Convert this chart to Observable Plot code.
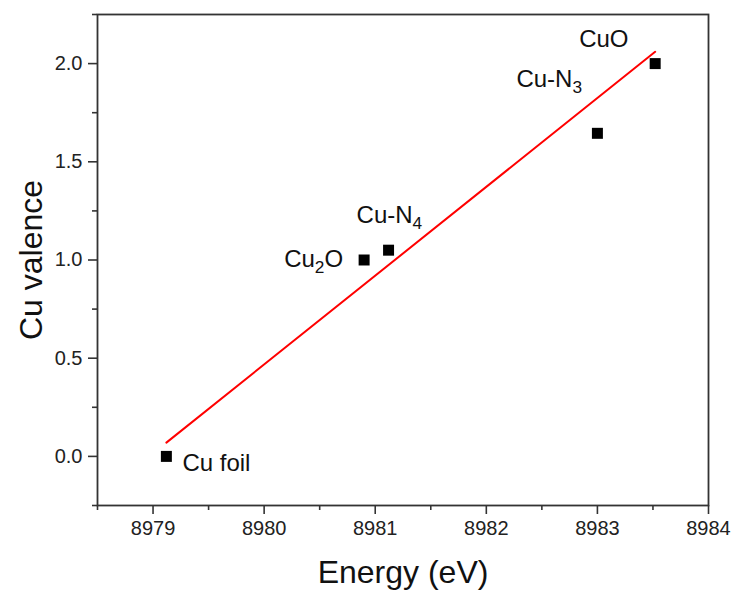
<!DOCTYPE html>
<html>
<head>
<meta charset="utf-8">
<script src="https://cdn.jsdelivr.net/npm/d3@7"></script>
<script src="https://cdn.jsdelivr.net/npm/@observablehq/plot@0.6"></script>
<style>
  html, body { margin: 0; padding: 0; background: #fff; overflow: hidden; }
  #chart svg { display: block; }
</style>
</head>
<body>
<div id="chart"></div>
<script>
// Data
const samples = ["Cu foil", "Cu₂O", "Cu-N₄", "Cu-N₃", "CuO"];
const energy  = [8979.12, 8980.90, 8981.12, 8983.00, 8983.52];
const valence = [0.00, 1.00, 1.05, 1.645, 2.00];
// label offsets (px) relative to each point
const labelDx = [16, -21, -32, -81, -76];
const labelDy = [7, -1, -35, -54, -24];
const labelAnchor = ["start", "end", "start", "start", "start"];
// fitted line endpoints
const fitX = [8979.12, 8983.52];
const fitY = [0.07, 2.06];
// ticks
const xMajor = [8979, 8980, 8981, 8982, 8983, 8984];
const xMinor = [8978.5, 8979.5, 8980.5, 8981.5, 8982.5, 8983.5];
const yMajor = [0, 0.5, 1.0, 1.5, 2.0];
const yMinor = [-0.25, 0.25, 0.75, 1.25, 1.75, 2.25];

const points = samples.map((s, i) => ({sample: s, energy: energy[i], valence: valence[i]}));
const fit = fitX.map((x, i) => ({x, y: fitY[i]}));

const W = 734, H = 592, mT = 14, mB = 87, mL = 97, mR = 26;
const frameW = W - mL - mR, frameH = H - mT - mB;

const axisStyle = {stroke: "#333", strokeWidth: 1.6};
const labelMarks = points.map((p, i) =>
  Plot.text([p], {
    x: "energy", y: "valence", text: "sample",
    dx: labelDx[i], dy: labelDy[i], textAnchor: labelAnchor[i],
    fontSize: 24, fill: "#111", lineAnchor: "middle"
  })
);

const chart = Plot.plot({
  width: W,
  height: H,
  marginTop: mT,
  marginBottom: mB,
  marginLeft: mL,
  marginRight: mR,
  style: {fontFamily: "'Liberation Sans', Arial, sans-serif", fontSize: "20px", background: "#fff", color: "#222"},
  x: {domain: [8978.5, 8984]},
  y: {domain: [-0.25, 2.25]},
  marks: [
    Plot.axisX({ticks: xMajor, tickSize: 9, tickPadding: 6, tickFormat: d => String(d), fontSize: 20, label: null, ...axisStyle}),
    Plot.axisY({ticks: yMajor, tickSize: 9, tickPadding: 6, tickFormat: d3.format(".1f"), fontSize: 20, label: null, ...axisStyle}),
    // minor ticks (outward, short)
    Plot.ruleX(xMinor, {x: d => d, insetTop: frameH, insetBottom: -5, ...axisStyle}),
    Plot.ruleY(yMinor, {y: d => d, insetLeft: -5, insetRight: frameW, ...axisStyle}),
    Plot.frame({stroke: "#333", strokeWidth: 1.8}),
    Plot.line(fit, {x: "x", y: "y", stroke: "#ff0000", strokeWidth: 2}),
    Plot.dot(points, {x: "energy", y: "valence", symbol: "square", r: 6.2, fill: "#000", stroke: "none"}),
    ...labelMarks,
    Plot.text(["Energy (eV)"], {frameAnchor: "bottom", dy: 67, text: d => d, fontSize: 32, fill: "#111", textAnchor: "middle", lineAnchor: "middle"}),
    Plot.text(["Cu valence"], {frameAnchor: "left", dx: -66, rotate: -90, text: d => d, fontSize: 32, fill: "#111", textAnchor: "middle", lineAnchor: "middle"})
  ]
});

// Make sure tick labels are at 20px
const tickTexts = new Set([...xMajor.map(String), ...yMajor.map(d3.format(".1f"))]);
chart.querySelectorAll("text").forEach(t => {
  if (tickTexts.has(t.textContent)) {
    t.setAttribute("font-size", "20");
    t.style.fontSize = "20px";
  }
});

// Render subscript digits as lowered, smaller tspans
const subMap = {"₀":"0","₁":"1","₂":"2","₃":"3","₄":"4","₅":"5","₆":"6","₇":"7","₈":"8","₉":"9"};
chart.querySelectorAll("text").forEach(t => {
  if (t.children.length) return;
  const s = t.textContent;
  if (![...s].some(c => subMap[c])) return;
  t.textContent = "";
  let buf = "";
  const ns = "http://www.w3.org/2000/svg";
  const flush = () => { if (buf) { const ts = document.createElementNS(ns, "tspan"); ts.textContent = buf; t.appendChild(ts); buf = ""; } };
  let lowered = false;
  for (const c of s) {
    if (subMap[c]) {
      flush();
      const ts = document.createElementNS(ns, "tspan");
      ts.textContent = subMap[c];
      ts.setAttribute("font-size", "0.72em");
      ts.setAttribute("dy", "0.35em");
      t.appendChild(ts);
      lowered = true;
    } else {
      if (lowered) {
        flush();
        const ts = document.createElementNS(ns, "tspan");
        ts.setAttribute("dy", "-0.25em");
        ts.textContent = c;
        t.appendChild(ts);
        lowered = false;
      } else buf += c;
    }
  }
  flush();
});

document.getElementById("chart").appendChild(chart);
</script>
</body>
</html>
